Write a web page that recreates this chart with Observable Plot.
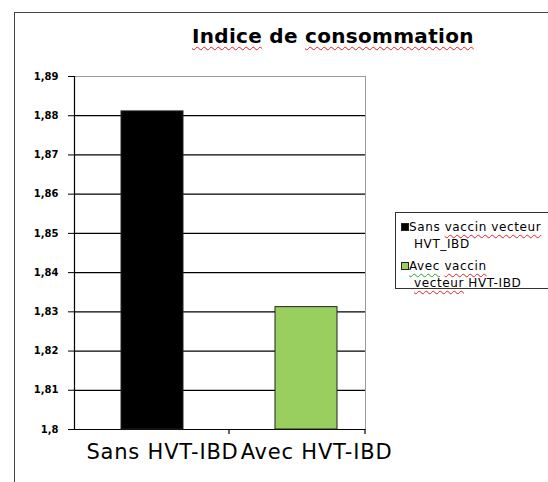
<!DOCTYPE html>
<html>
<head>
<meta charset="utf-8">
<script src="https://cdn.jsdelivr.net/npm/d3@7"></script>
<script src="https://cdn.jsdelivr.net/npm/@observablehq/plot@0.6"></script>
<style>
  html, body { margin: 0; padding: 0; background: #fff; overflow: hidden; }
  #wrap { position: relative; width: 548px; height: 482px; overflow: hidden; font-family: "DejaVu Sans", sans-serif; }
  #outer { position: absolute; left: 14px; top: 12px; width: 600px; height: 600px; border-left: 1.5px solid #444; border-top: 1.5px solid #444; }
  #title { position: absolute; left: 192px; top: 26px; font: bold 20px/20px "DejaVu Sans", sans-serif; letter-spacing: 0.3px; white-space: nowrap; color: #000; }
  .sq { text-decoration: underline wavy #e02020; text-decoration-thickness: 1px; text-underline-offset: 3px; }
  .sqg { text-decoration: underline wavy #30a030; text-decoration-thickness: 1px; text-underline-offset: 3px; }
  #legend { position: absolute; left: 395px; top: 212px; width: 240px; height: 75px; border: 1.5px solid #333; }
  .lg { position: absolute; font: 12px/12px "DejaVu Sans", sans-serif; letter-spacing: 0.6px; white-space: nowrap; color: #000; }
  .sw { position: absolute; width: 6px; height: 6px; border: 1px solid #222; }
  #chart { position: absolute; left: 0; top: 0; }
</style>
</head>
<body>
<div id="wrap">
  <div id="outer"></div>
  <div id="chart"></div>
  <div id="title"></div>
  <div id="legend"></div>
</div>
<script>
const categories = ["Sans HVT-IBD", "Avec HVT-IBD"];
const values = [1.8811, 1.8312];
const colors = ["#000000", "#99CF5F"];
const yTicks = [1.8, 1.81, 1.82, 1.83, 1.84, 1.85, 1.86, 1.87, 1.88, 1.89];
const titleWords = [["Indice", true], ["de", false], ["consommation", true]];
const legendLines = [
  [["Sans", ""], ["vaccin vecteur", "sq"]],
  [["HVT_IBD", ""]],
  [["Avec", "sqg"], ["vaccin", "sq"]],
  [["vecteur", "sq"], ["HVT-IBD", ""]]
];

const data = categories.map((c, i) => ({cat: c, value: values[i], color: colors[i]}));
const yMin = yTicks[0], yMax = yTicks[yTicks.length - 1];
const W = 548, H = 482, mL = 74, mR = 183, mT = 76, mB = 53;

const chart = Plot.plot({
  width: W, height: H,
  marginLeft: mL, marginRight: mR, marginTop: mT, marginBottom: mB,
  style: {background: "transparent", fontFamily: "DejaVu Sans, sans-serif", color: "#000"},
  x: {domain: categories, paddingInner: 0.598, paddingOuter: 0.242, align: 0.625, label: null},
  y: {domain: [yMin, yMax], label: null},
  marks: [
    Plot.frame({stroke: "#9a9a9a", strokeWidth: 1}),
    Plot.ruleY(yTicks.slice(0, -1), {stroke: "#000", strokeWidth: 1.2}),
    Plot.barY(data, {x: "cat", y1: yMin, y2: "value", fill: "color", stroke: "#222", strokeWidth: 1}),
    Plot.frame({anchor: "left", stroke: "#000", strokeWidth: 1.2}),
    Plot.axisY({ticks: yTicks, tickSize: 6, tickPadding: 10, tickFormat: d => String(d).replace(".", ","), fontSize: 10, fontWeight: "bold", stroke: "#000"}),
    Plot.axisX({tickSize: 0, tickPadding: 15, fontSize: 21, dx: 10})
  ]
});
document.getElementById("chart").appendChild(chart);

// category boundary tick marks on the x axis (derived from the band scale)
const xs = chart.scale("x");
const ys = chart.scale("y");
const yb = ys.apply(yMin);
const bw = xs.bandwidth;
const mid = (xs.apply(categories[0]) + bw + xs.apply(categories[1])) / 2;
const rightEdge = W - mR;
const svg = d3.select(chart);
[mid, rightEdge].forEach(x => {
  svg.append("line").attr("x1", x).attr("x2", x).attr("y1", yb).attr("y2", yb + 5)
    .attr("stroke", "#000").attr("stroke-width", 1.2);
});
svg.selectAll('[aria-label="x-axis tick label"] text').style("letter-spacing", "0.8px");

// title
const title = document.getElementById("title");
titleWords.forEach(([w, sq], i) => {
  const s = document.createElement("span");
  s.textContent = w;
  if (sq) s.className = "sq";
  title.appendChild(s);
  if (i < titleWords.length - 1) title.appendChild(document.createTextNode(" "));
});

// legend
const legend = document.getElementById("legend");
const lineTops = [8, 25, 47, 64];
const lineLefts = [13, 18, 13, 18];
legendLines.forEach((parts, li) => {
  const d = document.createElement("div");
  d.className = "lg";
  d.style.left = lineLefts[li] + "px";
  d.style.top = lineTops[li] + "px";
  parts.forEach(([t, cls], pi) => {
    const s = document.createElement("span");
    s.textContent = t;
    if (cls) s.className = cls;
    d.appendChild(s);
    if (pi < parts.length - 1) d.appendChild(document.createTextNode(" "));
  });
  legend.appendChild(d);
});
colors.forEach((c, i) => {
  const sw = document.createElement("div");
  sw.className = "sw";
  sw.style.left = "5px";
  sw.style.top = (lineTops[i * 2] + 2) + "px";
  sw.style.background = c;
  legend.appendChild(sw);
});
</script>
</body>
</html>
